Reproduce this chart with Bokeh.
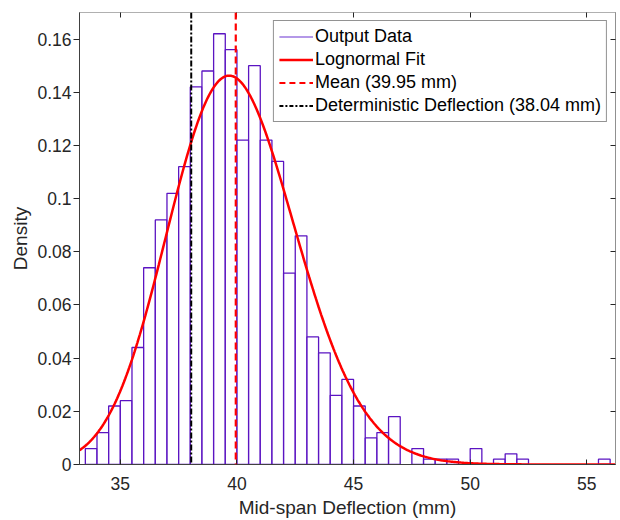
import numpy as np
from bokeh.plotting import figure
from bokeh.models import (Span, Legend, LegendItem, LinearAxis, FixedTicker,
                          CustomJSTickFormatter, Range1d)
from bokeh.embed import file_html
from bokeh.resources import INLINE

# ---- data ----
bin_left = [33.5, 34.0, 34.5, 35.0, 35.5, 36.0, 36.5, 37.0, 37.5, 38.0,
            38.5, 39.0, 39.5, 40.0, 40.5, 41.0, 41.5, 42.0, 42.5, 43.0,
            43.5, 44.0, 44.5, 45.0, 45.5, 46.0, 46.5, 47.0, 47.5, 48.0,
            48.5, 49.0, 49.5, 50.0, 50.5, 51.0, 51.5, 52.0, 52.5, 53.0,
            53.5, 54.0, 54.5, 55.0, 55.5]
bin_width = 0.5
density = [0.006, 0.012, 0.022, 0.024, 0.044, 0.074, 0.092, 0.102, 0.112, 0.142,
           0.148, 0.162, 0.156, 0.122, 0.150, 0.122, 0.114, 0.072, 0.086, 0.048,
           0.042, 0.026, 0.032, 0.022, 0.010, 0.012, 0.018, 0.000, 0.006, 0.002,
           0.002, 0.002, 0.000, 0.006, 0.000, 0.002, 0.004, 0.002, 0.000, 0.000,
           0.000, 0.000, 0.000, 0.000, 0.002]
mean_defl = 39.95
det_defl = 38.04
logn_sigma = 0.0686          # shape of fitted lognormal (log-space std)
logn_mu = np.log(mean_defl) - logn_sigma ** 2 / 2

x_ticks = [35, 40, 45, 50, 55]
y_ticks = [0, 0.02, 0.04, 0.06, 0.08, 0.10, 0.12, 0.14, 0.16]
x_min, x_max = 33.25, 56.23
y_min, y_max = 0.0, 0.17

FONT = "Liberation Sans"
TXT = "#262626"

p = figure(width=620, height=520, output_backend="svg", toolbar_location=None,
           x_range=Range1d(x_min, x_max), y_range=Range1d(y_min, y_max),
           min_border_left=79, min_border_right=5, min_border_top=12,
           min_border_bottom=55)
p.grid.visible = False
p.outline_line_color = "#808080"
p.background_fill_color = "white"

left = np.array(bin_left)
dens = np.array(density)
keep = dens > 0
bars = p.quad(left=left[keep], right=left[keep] + bin_width, bottom=0, top=dens[keep],
              fill_color="white", fill_alpha=0.6, line_color="#5b14c2", line_width=1.3)

xs = np.linspace(x_min, x_max, 400)
pdf = np.exp(-(np.log(xs) - logn_mu) ** 2 / (2 * logn_sigma ** 2)) / (xs * logn_sigma * np.sqrt(2 * np.pi))
fit = p.line(xs, pdf, line_color="#ff0000", line_width=2.5)

mean_span = Span(location=mean_defl, dimension="height", line_color="#ff0000",
                 line_width=2.2, line_dash="7 4")
det_span = Span(location=det_defl, dimension="height", line_color="black",
                line_width=2, line_dash="6 2 2 2")
p.add_layout(det_span)
p.add_layout(mean_span)

# legend proxies (drawn nowhere: NaN data)
nan = [np.nan]
leg_data = p.line(nan, nan, line_color="#9b76e0", line_width=1.5)
leg_mean = p.line(nan, nan, line_color="#ff0000", line_width=2.2, line_dash="6 4")
leg_det = p.line(nan, nan, line_color="black", line_width=2, line_dash="4 2 2 2")

legend = Legend(items=[
    LegendItem(label="Output Data", renderers=[leg_data]),
    LegendItem(label="Lognormal Fit", renderers=[fit]),
    LegendItem(label="Mean (39.95 mm)", renderers=[leg_mean]),
    LegendItem(label="Deterministic Deflection (38.04 mm)", renderers=[leg_det]),
], location="top_right")
legend.label_text_font = FONT
legend.label_text_font_size = "18px"
legend.label_text_color = "black"
legend.glyph_width = 34
legend.glyph_height = 21
legend.label_height = 21
legend.spacing = 2
legend.padding = 5
legend.margin = 8
legend.label_standoff = 2
legend.border_line_color = "#262626"
legend.border_line_width = 1
legend.background_fill_alpha = 1
p.add_layout(legend)

fmt = CustomJSTickFormatter(code="""
    var s = tick.toFixed(2);
    s = s.replace(/0+$/, '').replace(/\\.$/, '');
    return s;
""")
blank = CustomJSTickFormatter(code="return '';")

p.xaxis.ticker = FixedTicker(ticks=x_ticks)
p.yaxis.ticker = FixedTicker(ticks=y_ticks)
p.yaxis.formatter = fmt
for ax in (p.xaxis[0], p.yaxis[0]):
    ax.major_label_text_font = FONT
    ax.major_label_text_font_size = "17.5px"
    ax.major_label_text_color = TXT
    ax.axis_label_text_font = FONT
    ax.axis_label_text_font_size = "19px"
    ax.axis_label_text_font_style = "normal"
    ax.axis_label_text_color = TXT
    ax.axis_line_color = "#404040"
    ax.major_tick_line_color = TXT
    ax.minor_tick_line_color = None
p.xaxis.axis_label = "Mid-span Deflection (mm)"
p.yaxis.axis_label = "Density"
p.xaxis.major_tick_in = 5
p.xaxis.major_tick_out = 0
p.xaxis.major_label_standoff = 12
p.xaxis.axis_label_standoff = 4
p.yaxis.major_tick_in = 0
p.yaxis.major_tick_out = 6
p.yaxis.major_label_standoff = 2
p.yaxis.axis_label_standoff = 3

top_ax = LinearAxis(ticker=FixedTicker(ticks=x_ticks), formatter=blank,
                    major_label_text_color=None,
                    major_tick_in=5, major_tick_out=0, major_label_standoff=0,
                    minor_tick_line_color=None, axis_line_color="#b0b0b0",
                    major_tick_line_color=TXT)
right_ax = LinearAxis(ticker=FixedTicker(ticks=y_ticks), formatter=blank,
                      major_label_text_color=None,
                      major_tick_in=5, major_tick_out=0, major_label_standoff=0,
                      minor_tick_line_color=None, axis_line_color="#909090",
                      major_tick_line_color=TXT)
p.add_layout(top_ax, "above")
p.add_layout(right_ax, "right")

open("out.html", "w").write(file_html(p, INLINE))
